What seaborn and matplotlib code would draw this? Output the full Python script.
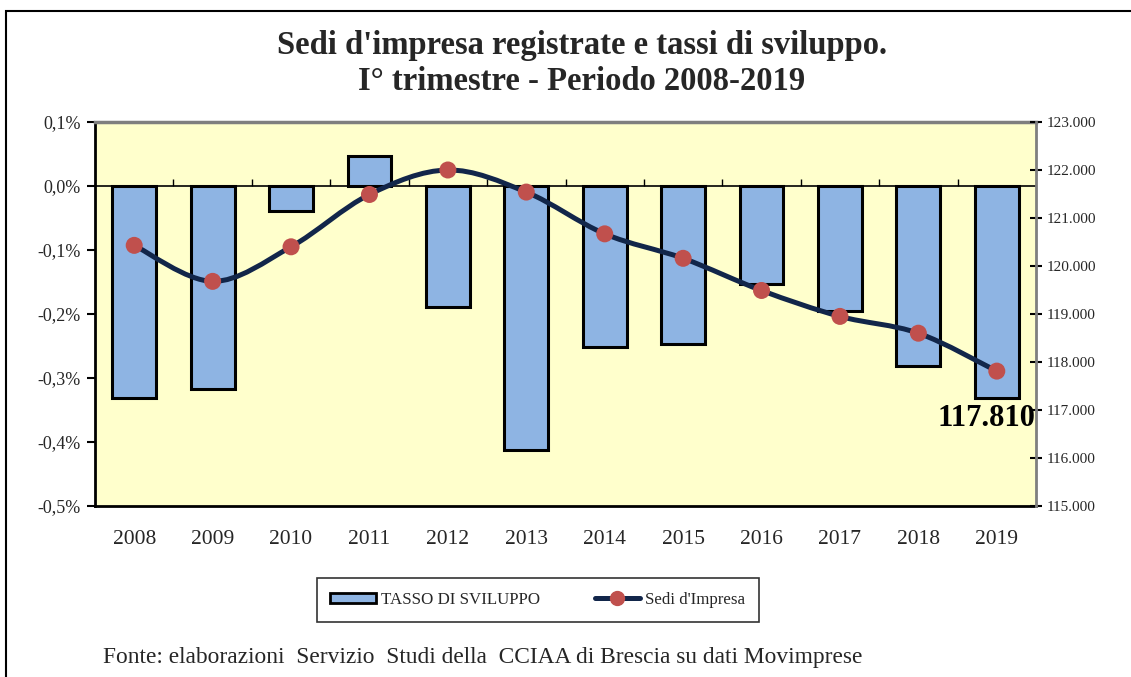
import matplotlib
matplotlib.use("Agg")
import matplotlib.pyplot as plt
import seaborn as sns
from matplotlib.path import Path
from matplotlib.patches import PathPatch, Rectangle
from matplotlib.lines import Line2D
from matplotlib.ticker import FuncFormatter, MultipleLocator

# data
anni = ["2008", "2009", "2010", "2011", "2012", "2013",
        "2014", "2015", "2016", "2017", "2018", "2019"]
tasso_sviluppo = [-0.331, -0.317, -0.039, 0.047, -0.189, -0.413,
                  -0.251, -0.247, -0.153, -0.195, -0.281, -0.332]
sedi_impresa = [120430, 119680, 120400, 121490, 122000, 121540,
                120670, 120160, 119490, 118950, 118600, 117810]

titolo = "Sedi d'impresa registrate e tassi di sviluppo.\nI° trimestre - Periodo 2008-2019"
fonte = "Fonte: elaborazioni  Servizio  Studi della  CCIAA di Brescia su dati Movimprese"

sns.set_theme(style="white")
plt.rcParams["font.family"] = ["Liberation Serif", "DejaVu Serif"]

col_bar = "#8EB4E3"
col_line = "#12264A"
col_dot = "#C0504D"
col_bg = "#FFFFCC"

fig = plt.figure(figsize=(11.31, 6.77), dpi=100)
ax = fig.add_axes([95 / 1131, 1 - 506 / 677, 941 / 1131, 384 / 677])
ax.set_facecolor(col_bg)

sns.barplot(x=anni, y=tasso_sviluppo, ax=ax, color=col_bar, saturation=1,
            edgecolor="black", linewidth=2.2, width=0.56, zorder=2)
ax.set_xlim(-0.5, len(anni) - 0.5)
ax.set_ylim(-0.5, 0.1)
ax.yaxis.set_major_locator(MultipleLocator(0.1))
ax.yaxis.set_major_formatter(FuncFormatter(
    lambda v, p: f"{round(v, 1) + 0.0:.1f}%".replace(".", ",")))
ax.set_xlabel("")
ax.set_ylabel("")
ax.tick_params(axis="y", left=True, direction="out", length=6, width=1.5,
               color="black", labelsize=13, pad=4)
ax.tick_params(axis="x", bottom=False, labelsize=15.5, pad=11)
for s in ["left", "bottom"]:
    ax.spines[s].set_color("black")
    ax.spines[s].set_linewidth(2)
ax.spines["top"].set_color("#7F7F7F")
ax.spines["top"].set_linewidth(2.5)
ax.spines["right"].set_visible(False)

# zero line with small ticks between the categories
zero_pos = (0 - ax.get_ylim()[0]) / (ax.get_ylim()[1] - ax.get_ylim()[0])
sec = ax.secondary_xaxis(zero_pos)
sec.set_xticks([i + 0.5 for i in range(len(anni) - 1)], labels=[])
sec.tick_params(axis="x", direction="out", length=5, width=1, color="black")
for s in sec.spines.values():
    s.set_color("black")
    s.set_linewidth(1.2)

# right axis: number of registered companies
ax2 = ax.twinx()
ax2.set_ylim(115000, 123000)
ax2.yaxis.set_major_locator(MultipleLocator(1000))
ax2.yaxis.set_major_formatter(FuncFormatter(
    lambda v, p: f"{v:,.0f}".replace(",", ".")))
ax2.tick_params(axis="y", right=True, direction="inout", length=9, width=1.5,
                color="black", labelsize=11, pad=3)
for s in ["left", "top", "bottom"]:
    ax2.spines[s].set_visible(False)
ax2.spines["right"].set_color("#7F7F7F")
ax2.spines["right"].set_linewidth(2)
ax2.grid(False)
ax.grid(False)

# smoothed line (Catmull-Rom as Bezier, like the spreadsheet's smoothing)
xs = list(range(len(sedi_impresa)))
pts = list(zip(xs, sedi_impresa))
verts = [pts[0]]
codes = [Path.MOVETO]
for i in range(len(pts) - 1):
    p0 = pts[i - 1] if i > 0 else pts[i]
    p1 = pts[i]
    p2 = pts[i + 1]
    p3 = pts[i + 2] if i + 2 < len(pts) else pts[i + 1]
    c1 = (p1[0] + (p2[0] - p0[0]) / 6, p1[1] + (p2[1] - p0[1]) / 6)
    c2 = (p2[0] - (p3[0] - p1[0]) / 6, p2[1] - (p3[1] - p1[1]) / 6)
    verts += [c1, c2, p2]
    codes += [Path.CURVE4] * 3
ax2.add_patch(PathPatch(Path(verts, codes), facecolor="none",
                        edgecolor=col_line, linewidth=3.6, zorder=3,
                        capstyle="round"))
sns.scatterplot(x=xs, y=sedi_impresa, ax=ax2, color=col_dot, s=150,
                edgecolor="none", zorder=4, legend=False)
ax2.set_ylabel("")

ax2.annotate(f"{sedi_impresa[-1]:,}".replace(",", "."),
             xy=(xs[-1], sedi_impresa[-1]), xytext=(39, -47),
             textcoords="offset pixels", ha="right", va="center",
             fontsize=22, fontweight="bold", color="black")

fig.suptitle(titolo, x=582 / 1131, y=1 - 30 / 677, va="top", fontsize=23.5,
             fontweight="bold", linespacing=1.22)

handles = [
    Rectangle((0, 0), 1, 1, facecolor=col_bar, edgecolor="black", linewidth=2),
    Line2D([], [], color=col_line, linewidth=3.6, marker="o",
           markersize=10, markerfacecolor=col_dot, markeredgecolor=col_dot),
]
leg = fig.legend(handles, ["TASSO DI SVILUPPO", "Sedi d'Impresa"],
                 loc="center", bbox_to_anchor=(538 / 1131, 1 - 600 / 677),
                 ncol=2, frameon=True, fancybox=False, fontsize=12.2,
                 handlelength=2.7, handleheight=0.6, handletextpad=0.3,
                 columnspacing=3.2, borderpad=0.8, borderaxespad=0)
leg.get_frame().set_edgecolor("black")
leg.get_frame().set_linewidth(1.2)

fig.text(103 / 1131, 1 - 657 / 677, fonte, ha="left", va="center", fontsize=16.8)

fig.add_artist(Rectangle((6 / 1131, -0.1), 1.2, (677 - 11) / 677 + 0.1,
                         transform=fig.transFigure, fill=False,
                         edgecolor="black", linewidth=1.5))

fig.savefig("out.png", dpi=100)
